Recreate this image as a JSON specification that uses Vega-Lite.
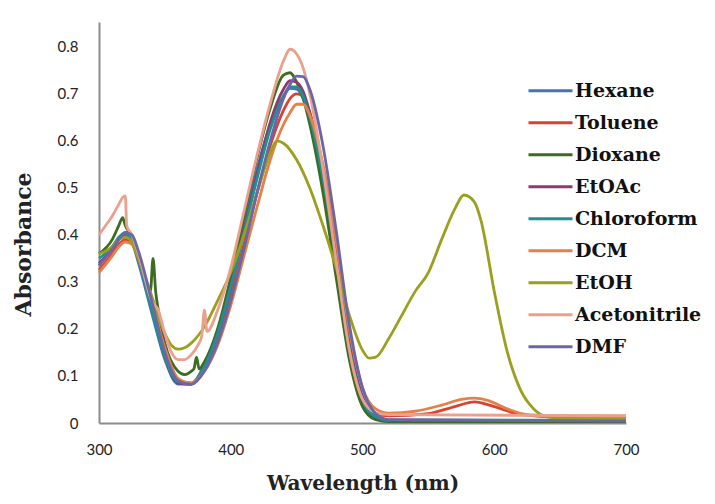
{
  "$schema": "https://vega.github.io/schema/vega-lite/v6.json",
  "width": 527,
  "height": 401,
  "autosize": {"type": "none"},
  "padding": {"left": 99, "top": 22, "right": 89, "bottom": 81},
  "background": "white",
  "config": {"view": {"stroke": null}},
  "datasets": {
    "spectra": [
      {"solvent":"Hexane","wavelength":300,"absorbance":0.335},{"solvent":"Hexane","wavelength":310,"absorbance":0.37},{"solvent":"Hexane","wavelength":315,"absorbance":0.39},{"solvent":"Hexane","wavelength":320,"absorbance":0.4},{"solvent":"Hexane","wavelength":325,"absorbance":0.385},{"solvent":"Hexane","wavelength":330,"absorbance":0.34},{"solvent":"Hexane","wavelength":340,"absorbance":0.235},{"solvent":"Hexane","wavelength":350,"absorbance":0.135},{"solvent":"Hexane","wavelength":360,"absorbance":0.083},{"solvent":"Hexane","wavelength":370,"absorbance":0.083},{"solvent":"Hexane","wavelength":380,"absorbance":0.125},{"solvent":"Hexane","wavelength":390,"absorbance":0.195},{"solvent":"Hexane","wavelength":400,"absorbance":0.3},{"solvent":"Hexane","wavelength":410,"absorbance":0.42},{"solvent":"Hexane","wavelength":420,"absorbance":0.54},{"solvent":"Hexane","wavelength":430,"absorbance":0.635},{"solvent":"Hexane","wavelength":440,"absorbance":0.695},{"solvent":"Hexane","wavelength":445,"absorbance":0.712},{"solvent":"Hexane","wavelength":450,"absorbance":0.71},{"solvent":"Hexane","wavelength":455,"absorbance":0.69},{"solvent":"Hexane","wavelength":460,"absorbance":0.645},{"solvent":"Hexane","wavelength":470,"absorbance":0.51},{"solvent":"Hexane","wavelength":480,"absorbance":0.33},{"solvent":"Hexane","wavelength":490,"absorbance":0.145},{"solvent":"Hexane","wavelength":500,"absorbance":0.04},{"solvent":"Hexane","wavelength":510,"absorbance":0.01},{"solvent":"Hexane","wavelength":520,"absorbance":0.004},{"solvent":"Hexane","wavelength":600,"absorbance":0.003},{"solvent":"Hexane","wavelength":700,"absorbance":0.003},

      {"solvent":"Toluene","wavelength":300,"absorbance":0.325},{"solvent":"Toluene","wavelength":310,"absorbance":0.36},{"solvent":"Toluene","wavelength":315,"absorbance":0.38},{"solvent":"Toluene","wavelength":320,"absorbance":0.39},{"solvent":"Toluene","wavelength":325,"absorbance":0.385},{"solvent":"Toluene","wavelength":330,"absorbance":0.35},{"solvent":"Toluene","wavelength":340,"absorbance":0.25},{"solvent":"Toluene","wavelength":350,"absorbance":0.15},{"solvent":"Toluene","wavelength":360,"absorbance":0.09},{"solvent":"Toluene","wavelength":370,"absorbance":0.085},{"solvent":"Toluene","wavelength":380,"absorbance":0.115},{"solvent":"Toluene","wavelength":390,"absorbance":0.175},{"solvent":"Toluene","wavelength":400,"absorbance":0.27},{"solvent":"Toluene","wavelength":410,"absorbance":0.38},{"solvent":"Toluene","wavelength":420,"absorbance":0.49},{"solvent":"Toluene","wavelength":430,"absorbance":0.59},{"solvent":"Toluene","wavelength":440,"absorbance":0.665},{"solvent":"Toluene","wavelength":445,"absorbance":0.69},{"solvent":"Toluene","wavelength":450,"absorbance":0.7},{"solvent":"Toluene","wavelength":455,"absorbance":0.695},{"solvent":"Toluene","wavelength":460,"absorbance":0.66},{"solvent":"Toluene","wavelength":470,"absorbance":0.54},{"solvent":"Toluene","wavelength":480,"absorbance":0.37},{"solvent":"Toluene","wavelength":490,"absorbance":0.175},{"solvent":"Toluene","wavelength":500,"absorbance":0.055},{"solvent":"Toluene","wavelength":510,"absorbance":0.02},{"solvent":"Toluene","wavelength":520,"absorbance":0.015},{"solvent":"Toluene","wavelength":550,"absorbance":0.02},{"solvent":"Toluene","wavelength":570,"absorbance":0.035},{"solvent":"Toluene","wavelength":585,"absorbance":0.045},{"solvent":"Toluene","wavelength":600,"absorbance":0.035},{"solvent":"Toluene","wavelength":620,"absorbance":0.018},{"solvent":"Toluene","wavelength":650,"absorbance":0.013},{"solvent":"Toluene","wavelength":700,"absorbance":0.013},

      {"solvent":"Dioxane","wavelength":300,"absorbance":0.36},{"solvent":"Dioxane","wavelength":310,"absorbance":0.39},{"solvent":"Dioxane","wavelength":315,"absorbance":0.42},{"solvent":"Dioxane","wavelength":318,"absorbance":0.437},{"solvent":"Dioxane","wavelength":320,"absorbance":0.42},{"solvent":"Dioxane","wavelength":325,"absorbance":0.395},{"solvent":"Dioxane","wavelength":330,"absorbance":0.35},{"solvent":"Dioxane","wavelength":336,"absorbance":0.3},{"solvent":"Dioxane","wavelength":339,"absorbance":0.28},{"solvent":"Dioxane","wavelength":341,"absorbance":0.35},{"solvent":"Dioxane","wavelength":343,"absorbance":0.28},{"solvent":"Dioxane","wavelength":345,"absorbance":0.24},{"solvent":"Dioxane","wavelength":350,"absorbance":0.17},{"solvent":"Dioxane","wavelength":360,"absorbance":0.11},{"solvent":"Dioxane","wavelength":365,"absorbance":0.103},{"solvent":"Dioxane","wavelength":370,"absorbance":0.11},{"solvent":"Dioxane","wavelength":372,"absorbance":0.115},{"solvent":"Dioxane","wavelength":374,"absorbance":0.14},{"solvent":"Dioxane","wavelength":376,"absorbance":0.115},{"solvent":"Dioxane","wavelength":380,"absorbance":0.13},{"solvent":"Dioxane","wavelength":390,"absorbance":0.2},{"solvent":"Dioxane","wavelength":400,"absorbance":0.31},{"solvent":"Dioxane","wavelength":410,"absorbance":0.44},{"solvent":"Dioxane","wavelength":420,"absorbance":0.565},{"solvent":"Dioxane","wavelength":430,"absorbance":0.67},{"solvent":"Dioxane","wavelength":440,"absorbance":0.74},{"solvent":"Dioxane","wavelength":445,"absorbance":0.745},{"solvent":"Dioxane","wavelength":450,"absorbance":0.725},{"solvent":"Dioxane","wavelength":455,"absorbance":0.69},{"solvent":"Dioxane","wavelength":460,"absorbance":0.635},{"solvent":"Dioxane","wavelength":470,"absorbance":0.49},{"solvent":"Dioxane","wavelength":480,"absorbance":0.31},{"solvent":"Dioxane","wavelength":490,"absorbance":0.135},{"solvent":"Dioxane","wavelength":500,"absorbance":0.035},{"solvent":"Dioxane","wavelength":510,"absorbance":0.007},{"solvent":"Dioxane","wavelength":520,"absorbance":0.003},{"solvent":"Dioxane","wavelength":700,"absorbance":0.003},

      {"solvent":"EtOAc","wavelength":300,"absorbance":0.34},{"solvent":"EtOAc","wavelength":310,"absorbance":0.37},{"solvent":"EtOAc","wavelength":315,"absorbance":0.39},{"solvent":"EtOAc","wavelength":320,"absorbance":0.405},{"solvent":"EtOAc","wavelength":325,"absorbance":0.395},{"solvent":"EtOAc","wavelength":330,"absorbance":0.355},{"solvent":"EtOAc","wavelength":340,"absorbance":0.245},{"solvent":"EtOAc","wavelength":350,"absorbance":0.14},{"solvent":"EtOAc","wavelength":360,"absorbance":0.085},{"solvent":"EtOAc","wavelength":370,"absorbance":0.083},{"solvent":"EtOAc","wavelength":380,"absorbance":0.12},{"solvent":"EtOAc","wavelength":390,"absorbance":0.19},{"solvent":"EtOAc","wavelength":400,"absorbance":0.29},{"solvent":"EtOAc","wavelength":410,"absorbance":0.41},{"solvent":"EtOAc","wavelength":420,"absorbance":0.53},{"solvent":"EtOAc","wavelength":430,"absorbance":0.64},{"solvent":"EtOAc","wavelength":440,"absorbance":0.71},{"solvent":"EtOAc","wavelength":445,"absorbance":0.728},{"solvent":"EtOAc","wavelength":450,"absorbance":0.725},{"solvent":"EtOAc","wavelength":455,"absorbance":0.705},{"solvent":"EtOAc","wavelength":460,"absorbance":0.66},{"solvent":"EtOAc","wavelength":470,"absorbance":0.53},{"solvent":"EtOAc","wavelength":480,"absorbance":0.35},{"solvent":"EtOAc","wavelength":490,"absorbance":0.17},{"solvent":"EtOAc","wavelength":500,"absorbance":0.055},{"solvent":"EtOAc","wavelength":510,"absorbance":0.014},{"solvent":"EtOAc","wavelength":520,"absorbance":0.006},{"solvent":"EtOAc","wavelength":700,"absorbance":0.005},

      {"solvent":"Chloroform","wavelength":300,"absorbance":0.35},{"solvent":"Chloroform","wavelength":310,"absorbance":0.375},{"solvent":"Chloroform","wavelength":315,"absorbance":0.395},{"solvent":"Chloroform","wavelength":320,"absorbance":0.405},{"solvent":"Chloroform","wavelength":325,"absorbance":0.39},{"solvent":"Chloroform","wavelength":330,"absorbance":0.35},{"solvent":"Chloroform","wavelength":340,"absorbance":0.24},{"solvent":"Chloroform","wavelength":350,"absorbance":0.14},{"solvent":"Chloroform","wavelength":360,"absorbance":0.088},{"solvent":"Chloroform","wavelength":370,"absorbance":0.085},{"solvent":"Chloroform","wavelength":380,"absorbance":0.12},{"solvent":"Chloroform","wavelength":390,"absorbance":0.19},{"solvent":"Chloroform","wavelength":400,"absorbance":0.29},{"solvent":"Chloroform","wavelength":410,"absorbance":0.405},{"solvent":"Chloroform","wavelength":420,"absorbance":0.52},{"solvent":"Chloroform","wavelength":430,"absorbance":0.625},{"solvent":"Chloroform","wavelength":440,"absorbance":0.695},{"solvent":"Chloroform","wavelength":445,"absorbance":0.715},{"solvent":"Chloroform","wavelength":450,"absorbance":0.715},{"solvent":"Chloroform","wavelength":455,"absorbance":0.695},{"solvent":"Chloroform","wavelength":460,"absorbance":0.65},{"solvent":"Chloroform","wavelength":470,"absorbance":0.52},{"solvent":"Chloroform","wavelength":480,"absorbance":0.345},{"solvent":"Chloroform","wavelength":490,"absorbance":0.16},{"solvent":"Chloroform","wavelength":500,"absorbance":0.05},{"solvent":"Chloroform","wavelength":510,"absorbance":0.014},{"solvent":"Chloroform","wavelength":520,"absorbance":0.006},{"solvent":"Chloroform","wavelength":700,"absorbance":0.006},

      {"solvent":"DCM","wavelength":300,"absorbance":0.32},{"solvent":"DCM","wavelength":310,"absorbance":0.355},{"solvent":"DCM","wavelength":315,"absorbance":0.375},{"solvent":"DCM","wavelength":320,"absorbance":0.385},{"solvent":"DCM","wavelength":325,"absorbance":0.38},{"solvent":"DCM","wavelength":330,"absorbance":0.35},{"solvent":"DCM","wavelength":340,"absorbance":0.26},{"solvent":"DCM","wavelength":350,"absorbance":0.16},{"solvent":"DCM","wavelength":360,"absorbance":0.095},{"solvent":"DCM","wavelength":370,"absorbance":0.085},{"solvent":"DCM","wavelength":380,"absorbance":0.11},{"solvent":"DCM","wavelength":390,"absorbance":0.165},{"solvent":"DCM","wavelength":400,"absorbance":0.25},{"solvent":"DCM","wavelength":410,"absorbance":0.355},{"solvent":"DCM","wavelength":420,"absorbance":0.46},{"solvent":"DCM","wavelength":430,"absorbance":0.56},{"solvent":"DCM","wavelength":440,"absorbance":0.635},{"solvent":"DCM","wavelength":445,"absorbance":0.66},{"solvent":"DCM","wavelength":450,"absorbance":0.678},{"solvent":"DCM","wavelength":455,"absorbance":0.678},{"solvent":"DCM","wavelength":460,"absorbance":0.655},{"solvent":"DCM","wavelength":470,"absorbance":0.55},{"solvent":"DCM","wavelength":480,"absorbance":0.39},{"solvent":"DCM","wavelength":490,"absorbance":0.2},{"solvent":"DCM","wavelength":500,"absorbance":0.075},{"solvent":"DCM","wavelength":510,"absorbance":0.03},{"solvent":"DCM","wavelength":520,"absorbance":0.021},{"solvent":"DCM","wavelength":540,"absorbance":0.025},{"solvent":"DCM","wavelength":560,"absorbance":0.038},{"solvent":"DCM","wavelength":575,"absorbance":0.05},{"solvent":"DCM","wavelength":585,"absorbance":0.053},{"solvent":"DCM","wavelength":595,"absorbance":0.048},{"solvent":"DCM","wavelength":610,"absorbance":0.03},{"solvent":"DCM","wavelength":625,"absorbance":0.018},{"solvent":"DCM","wavelength":650,"absorbance":0.015},{"solvent":"DCM","wavelength":700,"absorbance":0.015},

      {"solvent":"EtOH","wavelength":300,"absorbance":0.36},{"solvent":"EtOH","wavelength":310,"absorbance":0.375},{"solvent":"EtOH","wavelength":315,"absorbance":0.39},{"solvent":"EtOH","wavelength":320,"absorbance":0.395},{"solvent":"EtOH","wavelength":325,"absorbance":0.385},{"solvent":"EtOH","wavelength":330,"absorbance":0.35},{"solvent":"EtOH","wavelength":340,"absorbance":0.27},{"solvent":"EtOH","wavelength":350,"absorbance":0.19},{"solvent":"EtOH","wavelength":355,"absorbance":0.165},{"solvent":"EtOH","wavelength":360,"absorbance":0.157},{"solvent":"EtOH","wavelength":365,"absorbance":0.16},{"solvent":"EtOH","wavelength":370,"absorbance":0.17},{"solvent":"EtOH","wavelength":380,"absorbance":0.205},{"solvent":"EtOH","wavelength":390,"absorbance":0.26},{"solvent":"EtOH","wavelength":400,"absorbance":0.32},{"solvent":"EtOH","wavelength":410,"absorbance":0.4},{"solvent":"EtOH","wavelength":420,"absorbance":0.49},{"solvent":"EtOH","wavelength":430,"absorbance":0.575},{"solvent":"EtOH","wavelength":435,"absorbance":0.6},{"solvent":"EtOH","wavelength":440,"absorbance":0.595},{"solvent":"EtOH","wavelength":450,"absorbance":0.56},{"solvent":"EtOH","wavelength":460,"absorbance":0.5},{"solvent":"EtOH","wavelength":470,"absorbance":0.42},{"solvent":"EtOH","wavelength":480,"absorbance":0.33},{"solvent":"EtOH","wavelength":490,"absorbance":0.23},{"solvent":"EtOH","wavelength":500,"absorbance":0.155},{"solvent":"EtOH","wavelength":505,"absorbance":0.138},{"solvent":"EtOH","wavelength":510,"absorbance":0.14},{"solvent":"EtOH","wavelength":520,"absorbance":0.18},{"solvent":"EtOH","wavelength":530,"absorbance":0.23},{"solvent":"EtOH","wavelength":540,"absorbance":0.28},{"solvent":"EtOH","wavelength":550,"absorbance":0.32},{"solvent":"EtOH","wavelength":560,"absorbance":0.39},{"solvent":"EtOH","wavelength":570,"absorbance":0.455},{"solvent":"EtOH","wavelength":577,"absorbance":0.485},{"solvent":"EtOH","wavelength":585,"absorbance":0.47},{"solvent":"EtOH","wavelength":590,"absorbance":0.43},{"solvent":"EtOH","wavelength":600,"absorbance":0.28},{"solvent":"EtOH","wavelength":610,"absorbance":0.15},{"solvent":"EtOH","wavelength":620,"absorbance":0.07},{"solvent":"EtOH","wavelength":630,"absorbance":0.03},{"solvent":"EtOH","wavelength":640,"absorbance":0.013},{"solvent":"EtOH","wavelength":650,"absorbance":0.01},{"solvent":"EtOH","wavelength":700,"absorbance":0.01},

      {"solvent":"Acetonitrile","wavelength":300,"absorbance":0.4},{"solvent":"Acetonitrile","wavelength":305,"absorbance":0.42},{"solvent":"Acetonitrile","wavelength":310,"absorbance":0.44},{"solvent":"Acetonitrile","wavelength":315,"absorbance":0.465},{"solvent":"Acetonitrile","wavelength":318,"absorbance":0.48},{"solvent":"Acetonitrile","wavelength":320,"absorbance":0.483},{"solvent":"Acetonitrile","wavelength":321,"absorbance":0.42},{"solvent":"Acetonitrile","wavelength":325,"absorbance":0.4},{"solvent":"Acetonitrile","wavelength":330,"absorbance":0.36},{"solvent":"Acetonitrile","wavelength":340,"absorbance":0.26},{"solvent":"Acetonitrile","wavelength":345,"absorbance":0.24},{"solvent":"Acetonitrile","wavelength":350,"absorbance":0.19},{"solvent":"Acetonitrile","wavelength":355,"absorbance":0.15},{"solvent":"Acetonitrile","wavelength":360,"absorbance":0.135},{"solvent":"Acetonitrile","wavelength":365,"absorbance":0.135},{"solvent":"Acetonitrile","wavelength":370,"absorbance":0.145},{"solvent":"Acetonitrile","wavelength":375,"absorbance":0.165},{"solvent":"Acetonitrile","wavelength":378,"absorbance":0.185},{"solvent":"Acetonitrile","wavelength":380,"absorbance":0.24},{"solvent":"Acetonitrile","wavelength":382,"absorbance":0.195},{"solvent":"Acetonitrile","wavelength":390,"absorbance":0.24},{"solvent":"Acetonitrile","wavelength":400,"absorbance":0.33},{"solvent":"Acetonitrile","wavelength":410,"absorbance":0.45},{"solvent":"Acetonitrile","wavelength":420,"absorbance":0.57},{"solvent":"Acetonitrile","wavelength":430,"absorbance":0.68},{"solvent":"Acetonitrile","wavelength":440,"absorbance":0.77},{"solvent":"Acetonitrile","wavelength":445,"absorbance":0.795},{"solvent":"Acetonitrile","wavelength":450,"absorbance":0.785},{"solvent":"Acetonitrile","wavelength":455,"absorbance":0.755},{"solvent":"Acetonitrile","wavelength":460,"absorbance":0.7},{"solvent":"Acetonitrile","wavelength":470,"absorbance":0.54},{"solvent":"Acetonitrile","wavelength":480,"absorbance":0.345},{"solvent":"Acetonitrile","wavelength":490,"absorbance":0.155},{"solvent":"Acetonitrile","wavelength":500,"absorbance":0.05},{"solvent":"Acetonitrile","wavelength":510,"absorbance":0.022},{"solvent":"Acetonitrile","wavelength":520,"absorbance":0.018},{"solvent":"Acetonitrile","wavelength":700,"absorbance":0.015},

      {"solvent":"DMF","wavelength":300,"absorbance":0.335},{"solvent":"DMF","wavelength":310,"absorbance":0.37},{"solvent":"DMF","wavelength":315,"absorbance":0.39},{"solvent":"DMF","wavelength":320,"absorbance":0.405},{"solvent":"DMF","wavelength":325,"absorbance":0.4},{"solvent":"DMF","wavelength":330,"absorbance":0.365},{"solvent":"DMF","wavelength":340,"absorbance":0.26},{"solvent":"DMF","wavelength":350,"absorbance":0.15},{"solvent":"DMF","wavelength":360,"absorbance":0.09},{"solvent":"DMF","wavelength":370,"absorbance":0.082},{"solvent":"DMF","wavelength":380,"absorbance":0.11},{"solvent":"DMF","wavelength":390,"absorbance":0.17},{"solvent":"DMF","wavelength":400,"absorbance":0.26},{"solvent":"DMF","wavelength":410,"absorbance":0.37},{"solvent":"DMF","wavelength":420,"absorbance":0.49},{"solvent":"DMF","wavelength":430,"absorbance":0.6},{"solvent":"DMF","wavelength":440,"absorbance":0.69},{"solvent":"DMF","wavelength":445,"absorbance":0.72},{"solvent":"DMF","wavelength":450,"absorbance":0.738},{"solvent":"DMF","wavelength":455,"absorbance":0.737},{"solvent":"DMF","wavelength":460,"absorbance":0.71},{"solvent":"DMF","wavelength":470,"absorbance":0.59},{"solvent":"DMF","wavelength":480,"absorbance":0.41},{"solvent":"DMF","wavelength":490,"absorbance":0.21},{"solvent":"DMF","wavelength":500,"absorbance":0.075},{"solvent":"DMF","wavelength":510,"absorbance":0.02},{"solvent":"DMF","wavelength":520,"absorbance":0.007},{"solvent":"DMF","wavelength":700,"absorbance":0.004}
    ]
  },
  "data": {"name": "spectra"},
  "mark": {"type": "line", "interpolate": "monotone", "strokeWidth": 2.8},
  "encoding": {
    "x": {
      "field": "wavelength", "type": "quantitative",
      "scale": {"domain": [300, 700], "nice": false, "zero": false},
      "axis": {
        "title": "Wavelength (nm)", "values": [300, 400, 500, 600, 700],
        "grid": false, "ticks": false, "tickSize": 0, "labelFlush": false,
        "domainColor": "#8c8c8c", "domainWidth": 2,
        "labelFont": "Lato", "labelFontSize": 15, "labelColor": "#222222", "labelPadding": 19,
        "titleFont": "DejaVu Serif", "titleFontWeight": "bold", "titleFontSize": 20, "titleColor": "#222222",
        "titleBaseline": "middle", "titleY": 60
      }
    },
    "y": {
      "field": "absorbance", "type": "quantitative",
      "scale": {"domain": [0, 0.853], "nice": false},
      "axis": {
        "title": "Absorbance", "values": [0, 0.1, 0.2, 0.3, 0.4, 0.5, 0.6, 0.7, 0.8], "format": ".1~f",
        "grid": false, "ticks": false, "tickSize": 0, "labelFlush": false,
        "domainColor": "#8c8c8c", "domainWidth": 2,
        "labelFont": "Lato", "labelFontSize": 15, "labelColor": "#222222", "labelPadding": 21,
        "titleFont": "DejaVu Serif", "titleFontWeight": "bold", "titleFontSize": 22, "titleColor": "#222222",
        "titleBaseline": "middle", "titleX": -76, "titleY": 222, "titleAngle": -90
      }
    },
    "color": {
      "field": "solvent", "type": "nominal",
      "sort": ["Hexane", "Toluene", "Dioxane", "EtOAc", "Chloroform", "DCM", "EtOH", "Acetonitrile", "DMF"],
      "scale": {
        "domain": ["Hexane", "Toluene", "Dioxane", "EtOAc", "Chloroform", "DCM", "EtOH", "Acetonitrile", "DMF"],
        "range": ["#4A72B0", "#D9422E", "#3D6B1F", "#8E3A6E", "#1F9090", "#E5804A", "#9AA01E", "#EBA08E", "#6B66A8"]
      },
      "legend": {
        "title": null, "orient": "none", "legendX": 428, "legendY": 53,
        "symbolType": "stroke", "symbolSize": 1936, "symbolStrokeWidth": 3,
        "labelFont": "DejaVu Serif", "labelFontWeight": "bold", "labelFontSize": 19, "labelColor": "#111111",
        "labelOffset": 1, "rowPadding": 0, "clipHeight": 31.25, "padding": 0
      }
    }
  }
}
